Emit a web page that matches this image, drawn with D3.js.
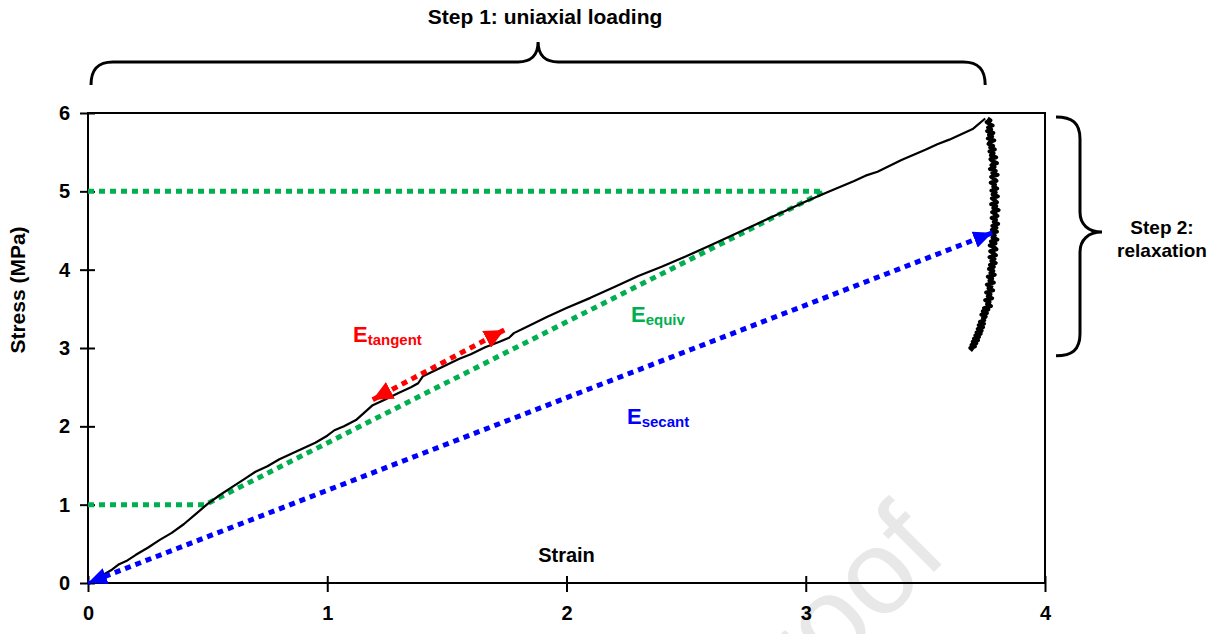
<!DOCTYPE html>
<html>
<head>
<meta charset="utf-8">
<script src="https://cdn.jsdelivr.net/npm/d3@7"></script>
<style>
  body { margin: 0; background: #fff; }
  text { font-family: "Liberation Sans", Arial, sans-serif; font-weight: bold; }
</style>
</head>
<body>
<svg id="chart" width="1223" height="634"></svg>
<script>
// loading curve (strain, stress MPa)
const loadStrain = [0, 0.03, 0.06, 0.1, 0.13, 0.16, 0.2, 0.25, 0.3, 0.35, 0.4, 0.45, 0.5, 0.55, 0.6, 0.65, 0.7, 0.75, 0.8, 0.85, 0.9, 0.95, 1.0, 1.03, 1.07, 1.12, 1.19, 1.24, 1.3, 1.35, 1.38, 1.4, 1.47, 1.55, 1.6, 1.66, 1.72, 1.76, 1.78, 1.82, 1.92, 2.0, 2.1, 2.2, 2.3, 2.4, 2.5, 2.6, 2.7, 2.8, 2.9, 3.0, 3.1, 3.2, 3.25, 3.3, 3.4, 3.5, 3.55, 3.6, 3.7, 3.75];
const loadStress = [0, 0.04, 0.1, 0.17, 0.24, 0.28, 0.36, 0.45, 0.55, 0.64, 0.75, 0.88, 1.01, 1.12, 1.22, 1.32, 1.42, 1.49, 1.58, 1.65, 1.72, 1.79, 1.88, 1.95, 2.0, 2.08, 2.27, 2.34, 2.43, 2.5, 2.55, 2.64, 2.74, 2.86, 2.92, 3.01, 3.08, 3.13, 3.19, 3.25, 3.4, 3.51, 3.64, 3.78, 3.92, 4.04, 4.17, 4.31, 4.45, 4.59, 4.73, 4.87, 5.0, 5.13, 5.2, 5.25, 5.4, 5.53, 5.6, 5.66, 5.8, 5.93];

// relaxation at held strain (noisy trace)
const relaxStrain = [
  3.760, 3.772, 3.756, 3.768, 3.781, 3.762, 3.775, 3.758, 3.784, 3.766, 3.779, 3.761, 3.788, 3.770, 3.764, 3.783, 3.771, 3.790,
  3.768, 3.785, 3.774, 3.796, 3.772, 3.781, 3.799, 3.776, 3.789, 3.770, 3.794, 3.780, 3.802, 3.775, 3.787, 3.797, 3.773, 3.791, 3.784, 3.800,
  3.776, 3.794, 3.781, 3.803, 3.778, 3.790, 3.799, 3.775, 3.796, 3.784, 3.806, 3.779, 3.792, 3.801, 3.777, 3.795, 3.786, 3.804, 3.780, 3.797,
  3.778, 3.799, 3.772, 3.790, 3.781, 3.801, 3.774, 3.793, 3.769, 3.788, 3.797, 3.771, 3.785, 3.795, 3.768, 3.789, 3.776, 3.794, 3.770, 3.786,
  3.766, 3.784, 3.772, 3.790, 3.761, 3.779, 3.768, 3.786, 3.757, 3.776, 3.764, 3.783, 3.754, 3.772, 3.761, 3.779, 3.750, 3.768, 3.758, 3.774,
  3.745, 3.763, 3.740, 3.757, 3.734, 3.752, 3.741, 3.746, 3.728, 3.745, 3.723, 3.741, 3.719, 3.735,
  3.714, 3.731, 3.709, 3.724, 3.703, 3.720, 3.698, 3.713, 3.693, 3.707, 3.688, 3.700];
const relaxStress = [
  5.93, 5.905, 5.885, 5.86, 5.84, 5.815, 5.79, 5.77, 5.745, 5.72, 5.70, 5.675, 5.65, 5.63, 5.605, 5.58, 5.56, 5.535,
  5.51, 5.485, 5.46, 5.435, 5.41, 5.385, 5.36, 5.335, 5.31, 5.285, 5.26, 5.235, 5.21, 5.185, 5.16, 5.135, 5.11, 5.085, 5.06, 5.035,
  5.01, 4.985, 4.96, 4.935, 4.91, 4.885, 4.86, 4.835, 4.81, 4.785, 4.76, 4.735, 4.71, 4.685, 4.66, 4.635, 4.61, 4.585, 4.56, 4.535,
  4.51, 4.485, 4.46, 4.435, 4.41, 4.385, 4.36, 4.335, 4.31, 4.285, 4.26, 4.235, 4.21, 4.185, 4.16, 4.135, 4.11, 4.085, 4.06, 4.035,
  4.01, 3.985, 3.96, 3.935, 3.91, 3.885, 3.86, 3.835, 3.81, 3.785, 3.76, 3.735, 3.71, 3.685, 3.66, 3.635, 3.61, 3.585, 3.56, 3.535,
  3.51, 3.49, 3.47, 3.445, 3.425, 3.40, 3.38, 3.355, 3.335, 3.31, 3.29, 3.265, 3.245, 3.22,
  3.20, 3.18, 3.16, 3.14, 3.12, 3.10, 3.08, 3.06, 3.04, 3.02, 3.0, 2.97];

// modulus construction lines
const equivStrain = [0, 0.49, 3.08];
const equivStress = [1, 1, 5];
const equivTopStrain = [0, 3.08];
const equivTopStress = [5, 5];
const secantStrain = [3.78, 0];
const secantStress = [4.47, 0];
const tangentStrain = [1.74, 1.19];
const tangentStress = [3.23, 2.34];

const xTicks = [0, 1, 2, 3, 4];
const yTicks = [0, 1, 2, 3, 4, 5, 6];

const svg = d3.select("#chart");
const margin = {top: 113, right: 178, bottom: 51, left: 88};
const W = 1223, H = 634;

const x = d3.scaleLinear().domain([0, 4]).range([margin.left, W - margin.right]);
const y = d3.scaleLinear().domain([0, 6]).range([H - margin.bottom, margin.top]);

// watermark
svg.append("text")
  .attr("transform", "translate(950,556) rotate(-45)")
  .attr("text-anchor", "end")
  .style("font-weight", "normal")
  .style("font-size", "120px")
  .attr("fill", "#e8e8e8")
  .text("Proof");

// plot frame
svg.append("rect")
  .attr("x", x(0)).attr("y", y(6))
  .attr("width", x(4) - x(0)).attr("height", y(0) - y(6))
  .attr("fill", "none").attr("stroke", "#000").attr("stroke-width", 2);

// axes
const xAxis = svg.append("g")
  .attr("transform", "translate(0," + y(0) + ")")
  .call(d3.axisBottom(x).tickValues(xTicks).tickFormat(d3.format("d")).tickSize(9).tickPadding(14));
xAxis.select(".domain").remove();
xAxis.selectAll(".tick line").attr("y1", -7).attr("stroke-width", 2);
xAxis.selectAll(".tick text").style("font-size", "20px").attr("fill", "#000");

const yAxis = svg.append("g")
  .attr("transform", "translate(" + x(0) + ",0)")
  .call(d3.axisLeft(y).tickValues(yTicks).tickFormat(d3.format("d")).tickSize(8).tickPadding(10));
yAxis.select(".domain").remove();
yAxis.selectAll(".tick line").attr("x1", 7).attr("stroke-width", 2);
yAxis.selectAll(".tick text").style("font-size", "20px").attr("fill", "#000");

// markers
const defs = svg.append("defs");
function marker(id, color, len, wid) {
  defs.append("marker")
    .attr("id", id)
    .attr("viewBox", "0 0 " + len + " " + wid)
    .attr("refX", len).attr("refY", wid / 2)
    .attr("markerWidth", len).attr("markerHeight", wid)
    .attr("markerUnits", "userSpaceOnUse")
    .attr("orient", "auto-start-reverse")
    .append("path")
    .attr("d", "M0,0L" + len + "," + (wid / 2) + "L0," + wid + "Z")
    .attr("fill", color);
}
marker("arrBlue", "#0000ff", 19, 17);
marker("arrRed", "#ff0000", 20, 19);

const line = d3.line().x(d => x(d[0])).y(d => y(d[1]));
const zip = (a, b) => a.map((v, i) => [v, b[i]]);

// green equivalent modulus lines
svg.append("path").datum(zip(equivTopStrain, equivTopStress))
  .attr("d", line).attr("fill", "none")
  .attr("stroke", "#00b050").attr("stroke-width", 5).attr("stroke-dasharray", "6 5");
svg.append("path").datum(zip(equivStrain, equivStress))
  .attr("d", line).attr("fill", "none")
  .attr("stroke", "#00b050").attr("stroke-width", 5).attr("stroke-dasharray", "6 5");

// stress-strain curve
svg.append("path").datum(zip(loadStrain, loadStress))
  .attr("d", line).attr("fill", "none")
  .attr("stroke", "#000").attr("stroke-width", 2.2).attr("stroke-linejoin", "round");
svg.append("path").datum(zip(relaxStrain, relaxStress))
  .attr("d", line).attr("fill", "none")
  .attr("stroke", "#000").attr("stroke-width", 4).attr("stroke-linejoin", "round");

// secant and tangent arrows
svg.append("path").datum(zip(secantStrain, secantStress))
  .attr("d", line).attr("fill", "none")
  .attr("stroke", "#0000ff").attr("stroke-width", 5).attr("stroke-dasharray", "6 5")
  .attr("marker-start", "url(#arrBlue)").attr("marker-end", "url(#arrBlue)");
svg.append("path").datum(zip(tangentStrain, tangentStress))
  .attr("d", line).attr("fill", "none")
  .attr("stroke", "#ff0000").attr("stroke-width", 5).attr("stroke-dasharray", "6 5")
  .attr("marker-start", "url(#arrRed)").attr("marker-end", "url(#arrRed)");

// modulus labels
function eLabel(px, py, sub, color) {
  const t = svg.append("text").attr("x", px).attr("y", py).attr("fill", color);
  t.append("tspan").style("font-size", "22px").text("E");
  t.append("tspan").style("font-size", "15px").attr("dy", 3).text(sub);
}
eLabel(353, 342, "tangent", "#ff0000");
eLabel(631, 322, "equiv", "#00b050");
eLabel(627, 424, "secant", "#0000ff");

// axis titles
svg.append("text")
  .attr("x", (x(0) + x(4)) / 2).attr("y", 562)
  .attr("text-anchor", "middle").style("font-size", "20px")
  .text("Strain");
svg.append("text")
  .attr("transform", "translate(25,290) rotate(-90)")
  .attr("text-anchor", "middle").style("font-size", "21px")
  .text("Stress (MPa)");

// step braces
const bx0 = x(0) + 3, bx1 = x(3.75), bm = (bx0 + bx1) / 2;
svg.append("path")
  .attr("d", `M${bx0},85 C${bx0},70 ${bx0 + 6},62 ${bx0 + 22},62 L${bm - 20},62 C${bm - 8},62 ${bm},56 ${bm},42 C${bm},56 ${bm + 8},62 ${bm + 20},62 L${bx1 - 22},62 C${bx1 - 6},62 ${bx1},70 ${bx1},85`)
  .attr("fill", "none").attr("stroke", "#000").attr("stroke-width", 3);
svg.append("text")
  .attr("x", bm + 7).attr("y", 24)
  .attr("text-anchor", "middle").style("font-size", "21px")
  .text("Step 1: uniaxial loading");

const ry0 = y(5.95), ry1 = y(2.9), rm = y(4.48);
const rx0 = 1056, rx1 = 1080, rx2 = 1102;
svg.append("path")
  .attr("d", `M${rx0},${ry0} C${rx0 + 16},${ry0} ${rx1},${ry0 + 6} ${rx1},${ry0 + 22} L${rx1},${rm - 20} C${rx1},${rm - 8} ${rx1 + 8},${rm} ${rx2},${rm} C${rx1 + 8},${rm} ${rx1},${rm + 8} ${rx1},${rm + 20} L${rx1},${ry1 - 22} C${rx1},${ry1 - 6} ${rx0 + 16},${ry1} ${rx0},${ry1}`)
  .attr("fill", "none").attr("stroke", "#000").attr("stroke-width", 3);
svg.append("text")
  .attr("x", 1162).attr("y", 234)
  .attr("text-anchor", "middle").style("font-size", "19px")
  .text("Step 2:");
svg.append("text")
  .attr("x", 1162).attr("y", 257)
  .attr("text-anchor", "middle").style("font-size", "19px")
  .text("relaxation");
</script>
</body>
</html>
